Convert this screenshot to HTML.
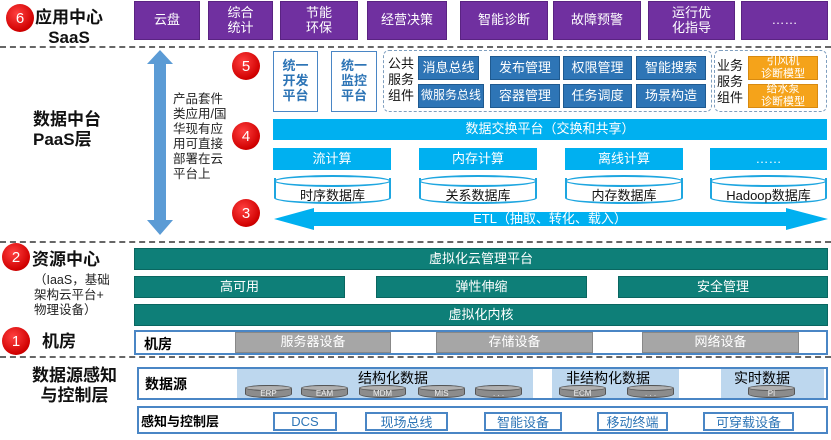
<!DOCTYPE html>
<html><head><meta charset="utf-8"><style>
*{margin:0;padding:0;box-sizing:border-box}
body{width:831px;height:440px;background:#fff;position:relative;overflow:hidden;font-family:"Liberation Sans","Noto Sans CJK SC",sans-serif}
.a{position:absolute;display:flex;align-items:center;justify-content:center;text-align:center;line-height:1.15}
.p{background:#7030a0;color:#fff;font-size:13px;border:1px solid #5a2382}
.b{background:#2e75b6;color:#fff;font-size:13px;border:1px solid #1f5a90}
.c{background:#00b0f0;color:#fff;font-size:13px}
.t{background:#0e7f78;color:#fff;font-size:13px;border:1px solid #0a6660}
.g{background:#a6a6a6;color:#fff;font-size:13px;border:1px solid #888}
.o{background:#f5a31a;color:#fff;font-size:11px;border:1px solid #d88a10}
.r{position:absolute;width:28px;height:28px;border-radius:50%;background:radial-gradient(circle at 40% 35%,#ff4040,#d00000 70%,#a00000);color:#fff;font-size:15px;display:flex;align-items:center;justify-content:center}
.h{position:absolute;left:0;width:831px;border-top:2px dashed #666}
.L{position:absolute;font-weight:bold;font-size:16px;color:#111;text-align:center;line-height:1.2}
.cy{position:absolute;border:2px solid #1ea6e0;border-top:none;border-radius:0 0 50% 50%/0 0 6px 6px;background:#fff;display:flex;align-items:center;justify-content:center;font-size:13px;color:#111;padding-top:8px}
.cy:before{content:"";position:absolute;left:-2px;right:-2px;top:-3px;height:8px;border:2px solid #1ea6e0;border-radius:50%;background:#fff}
.sc{position:absolute;height:13px;background:#8c8c8c;border:1px solid #555;border-radius:50%/4px;color:#eee;font-size:8px;display:flex;align-items:center;justify-content:center;padding-top:3px}
.sc:before{content:"";position:absolute;left:-1px;right:-1px;top:-1px;height:4px;background:#b0b0b0;border:1px solid #555;border-radius:50%}
.sc span{position:relative;z-index:1}
.wb{position:absolute;border:2px solid #4a86c5;background:#fff}
.ob{position:absolute;border:2px solid #4a86c5;color:#2e75b6;font-size:13px;display:flex;align-items:center;justify-content:center}
</style></head><body>
<div class="r" style="left:6px;top:4px">6</div>
<div class="L" style="left:34px;top:8px;width:70px;font-size:17px">应用中心<br>SaaS</div>
<div class="a p" style="left:134px;top:1px;width:66px;height:39px">云盘</div>
<div class="a p" style="left:208px;top:1px;width:65px;height:39px">综合<br>统计</div>
<div class="a p" style="left:280px;top:1px;width:78px;height:39px">节能<br>环保</div>
<div class="a p" style="left:367px;top:1px;width:80px;height:39px">经营决策</div>
<div class="a p" style="left:460px;top:1px;width:88px;height:39px">智能诊断</div>
<div class="a p" style="left:553px;top:1px;width:88px;height:39px">故障预警</div>
<div class="a p" style="left:648px;top:1px;width:87px;height:39px">运行优<br>化指导</div>
<div class="a p" style="left:741px;top:1px;width:87px;height:39px">……</div>
<div class="h" style="top:46px"></div>
<div class="L" style="left:33px;top:110px;text-align:left;font-size:17px">数据中台<br>PaaS层</div>
<svg style="position:absolute;left:144px;top:48px" width="32" height="190"><polygon points="16,2 29,16 22,16 22,172 29,172 16,187 3,172 10,172 10,16 3,16" fill="#5b9bd5"/></svg>
<div style="position:absolute;left:173px;top:92px;width:60px;font-size:12.5px;line-height:15px;color:#222">产品套件类应用/国华现有应用可直接部署在云平台上</div>
<div class="r" style="left:232px;top:52px">5</div>
<div class="r" style="left:232px;top:122px">4</div>
<div class="r" style="left:232px;top:199px">3</div>
<div class="a" style="left:273px;top:51px;width:45px;height:61px;border:1.5px solid #4a86c5;color:#2e75b6;font-weight:bold;font-size:13px">统一<br>开发<br>平台</div>
<div class="a" style="left:331px;top:51px;width:46px;height:61px;border:1.5px solid #4a86c5;color:#2e75b6;font-weight:bold;font-size:13px">统一<br>监控<br>平台</div>
<div style="position:absolute;left:383px;top:50px;width:329px;height:62px;border:1.5px dashed #7f9fbf;border-radius:6px"></div>
<div style="position:absolute;left:388px;top:56px;font-size:13px;line-height:16px;color:#111">公共<br>服务<br>组件</div>
<div class="a b" style="left:418px;top:56px;width:61px;height:24px">消息总线</div>
<div class="a b" style="left:490px;top:56px;width:70px;height:24px">发布管理</div>
<div class="a b" style="left:563px;top:56px;width:69px;height:24px">权限管理</div>
<div class="a b" style="left:636px;top:56px;width:70px;height:24px">智能搜索</div>
<div class="a b" style="left:418px;top:84px;width:66px;height:24px;font-size:12px">微服务总线</div>
<div class="a b" style="left:490px;top:84px;width:70px;height:24px">容器管理</div>
<div class="a b" style="left:563px;top:84px;width:69px;height:24px">任务调度</div>
<div class="a b" style="left:636px;top:84px;width:70px;height:24px">场景构造</div>
<div style="position:absolute;left:714px;top:50px;width:113px;height:62px;border:1.5px dashed #7f9fbf;border-radius:6px"></div>
<div style="position:absolute;left:717px;top:58px;font-size:13px;line-height:16px;color:#111">业务<br>服务<br>组件</div>
<div class="a o" style="left:748px;top:56px;width:70px;height:24px">引风机<br>诊断模型</div>
<div class="a o" style="left:748px;top:84px;width:70px;height:24px">给水泵<br>诊断模型</div>
<div class="a c" style="left:273px;top:119px;width:554px;height:21px">数据交换平台（交换和共享）</div>
<div class="a c" style="left:273px;top:148px;width:118px;height:22px">流计算</div>
<div class="a c" style="left:419px;top:148px;width:118px;height:22px">内存计算</div>
<div class="a c" style="left:565px;top:148px;width:118px;height:22px">离线计算</div>
<div class="a c" style="left:710px;top:148px;width:117px;height:22px">……</div>
<div class="cy" style="left:274px;top:178px;width:117px;height:26px">时序数据库</div>
<div class="cy" style="left:419px;top:178px;width:118px;height:26px">关系数据库</div>
<div class="cy" style="left:565px;top:178px;width:118px;height:26px">内存数据库</div>
<div class="cy" style="left:710px;top:178px;width:117px;height:26px">Hadoop数据库</div>
<svg style="position:absolute;left:272px;top:206px" width="558" height="26"><polygon points="2,13 42,2 42,6 514,6 514,2 556,13 514,24 514,20 42,20 42,24" fill="#00b0f0"/></svg>
<div class="a" style="left:300px;top:211px;width:500px;height:16px;color:#fff;font-size:13px">ETL（抽取、转化、载入）</div>
<div class="h" style="top:241px"></div>
<div class="r" style="left:2px;top:243px">2</div>
<div class="L" style="left:32px;top:250px;font-size:17px">资源中心</div>
<div style="position:absolute;left:34px;top:273px;font-size:12.5px;line-height:15px;color:#222">（IaaS，基础<br>架构云平台+<br>物理设备）</div>
<div class="a t" style="left:134px;top:248px;width:694px;height:22px">虚拟化云管理平台</div>
<div class="a t" style="left:134px;top:276px;width:211px;height:22px">高可用</div>
<div class="a t" style="left:376px;top:276px;width:211px;height:22px">弹性伸缩</div>
<div class="a t" style="left:618px;top:276px;width:210px;height:22px">安全管理</div>
<div class="a t" style="left:134px;top:304px;width:694px;height:22px">虚拟化内核</div>
<div class="r" style="left:2px;top:327px">1</div>
<div class="L" style="left:42px;top:332px;font-size:17px">机房</div>
<div class="wb" style="left:134px;top:330px;width:694px;height:25px"></div>
<div style="position:absolute;left:144px;top:334px;font-weight:bold;font-size:14px">机房</div>
<div class="a g" style="left:235px;top:332px;width:156px;height:21px">服务器设备</div>
<div class="a g" style="left:436px;top:332px;width:157px;height:21px">存储设备</div>
<div class="a g" style="left:642px;top:332px;width:157px;height:21px">网络设备</div>
<div class="h" style="top:356px"></div>
<div class="L" style="left:32px;top:366px;font-size:17px">数据源感知<br>与控制层</div>
<div class="wb" style="left:137px;top:367px;width:691px;height:33px"></div>
<div style="position:absolute;left:145px;top:374px;font-weight:bold;font-size:14px">数据源</div>
<div style="position:absolute;left:237px;top:369px;width:296px;height:29px;background:#bdd7ee"></div>
<div style="position:absolute;left:552px;top:369px;width:127px;height:29px;background:#bdd7ee"></div>
<div style="position:absolute;left:721px;top:369px;width:103px;height:29px;background:#bdd7ee"></div>
<div style="position:absolute;left:358px;top:368px;font-size:14px">结构化数据</div>
<div style="position:absolute;left:566px;top:368px;font-size:14px">非结构化数据</div>
<div style="position:absolute;left:734px;top:368px;font-size:14px">实时数据</div>
<div class="sc" style="left:245px;top:385px;width:47px"><span>ERP</span></div>
<div class="sc" style="left:301px;top:385px;width:47px"><span>EAM</span></div>
<div class="sc" style="left:359px;top:385px;width:47px"><span>MDM</span></div>
<div class="sc" style="left:418px;top:385px;width:47px"><span>MIS</span></div>
<div class="sc" style="left:475px;top:385px;width:47px"><span>. . .</span></div>
<div class="sc" style="left:559px;top:385px;width:47px"><span>ECM</span></div>
<div class="sc" style="left:627px;top:385px;width:47px"><span>. . .</span></div>
<div class="sc" style="left:748px;top:385px;width:47px"><span>PI</span></div>
<div class="wb" style="left:137px;top:406px;width:691px;height:28px"></div>
<div style="position:absolute;left:141px;top:411px;font-weight:bold;font-size:13px">感知与控制层</div>
<div class="ob" style="left:273px;top:412px;width:64px;height:19px">DCS</div>
<div class="ob" style="left:365px;top:412px;width:83px;height:19px">现场总线</div>
<div class="ob" style="left:484px;top:412px;width:78px;height:19px">智能设备</div>
<div class="ob" style="left:597px;top:412px;width:71px;height:19px">移动终端</div>
<div class="ob" style="left:703px;top:412px;width:91px;height:19px">可穿载设备</div>
</body></html>
